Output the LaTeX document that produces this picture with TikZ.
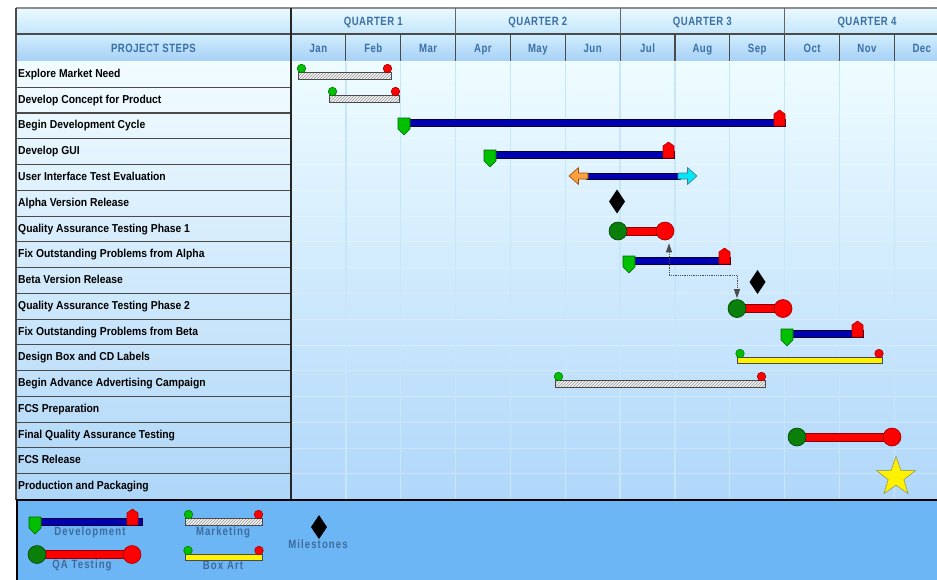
\documentclass[tikz,border=0pt]{standalone}
\usepackage{fontspec}
\setmainfont{Liberation Sans}
\newfontfamily\hdrfont{Liberation Sans}[FakeStretch=0.8,LetterSpace=4]
\newfontfamily\lgdfont{Liberation Sans}[FakeStretch=0.8,LetterSpace=9]
\newfontfamily\taskfont{Liberation Sans}[FakeStretch=0.9]
\usetikzlibrary{arrows.meta,patterns,shapes.geometric}

\definecolor{hdrtext}{HTML}{3A6EA6}
\definecolor{lgdtext}{HTML}{3E6C9A}
\definecolor{hq1}{HTML}{EAFAFF}
\definecolor{hq2}{HTML}{C4E6FC}
\definecolor{hm1}{HTML}{D0EDFD}
\definecolor{hm2}{HTML}{A6D0F6}
\definecolor{col1}{HTML}{F2FCFF}
\definecolor{col2}{HTML}{AED6F8}
\definecolor{chart1}{HTML}{EEFCFF}
\definecolor{chart2}{HTML}{B0D7FA}
\definecolor{gridc}{HTML}{C8E6FA}
\definecolor{lgdfill}{HTML}{6DB6F6}
\definecolor{rule}{HTML}{4A4A4A}
\definecolor{devblue}{HTML}{0000B0}
\definecolor{mkred}{HTML}{FF0000}
\definecolor{mkgreen}{HTML}{00C000}
\definecolor{qagreen}{HTML}{0A7F0A}
\definecolor{tiporange}{HTML}{FFA040}
\definecolor{tipcyan}{HTML}{00E8F8}

% Development bar: start x, bar end x, house right x, bar top y
\newcommand{\DevBar}[4]{%
  \draw[devbar] (#1+6,#4) rectangle (#2,#4+7);
  \draw[redmark] (#3-11,#4+7) -- (#3-11,#4-5) -- (#3-5.5,#4-9) -- (#3,#4-5) -- (#3,#4+7) -- cycle;
  \draw[greenmark] (#1,#4-1) -- (#1+12,#4-1) -- (#1+12,#4+10) -- (#1+6,#4+16) -- (#1,#4+10) -- cycle;
}
% QA bar: start x, end x, centre y, node prefix
\newcommand{\QABar}[4]{%
  \draw[qabar] (#1,#3-4) rectangle (#2,#3+4);
  \node[qastart] (#4s) at (#1,#3) {};
  \node[qaend] (#4e) at (#2,#3) {};
}
% Marketing (hatched) bar: start x, end x, bar top y
\newcommand{\MktBar}[3]{%
  \fill[white!92!gray] (#1,#3) rectangle (#2,#3+7);
  \fill[pattern=north east lines, pattern color=gray!85] (#1,#3) rectangle (#2,#3+7);
  \draw[draw=rule, line width=0.9pt] (#1,#3) rectangle (#2,#3+7);
  \draw[dotgreen] (#1+3.5,#3-3.5) circle (4.3pt);
  \draw[dotred] (#2-3.5,#3-3.5) circle (4.3pt);
}
% Box art (yellow) bar: start x, end x, bar top y
\newcommand{\ArtBar}[3]{%
  \draw[fill=yellow, draw=rule, line width=0.9pt] (#1,#3) rectangle (#2,#3+6.5);
  \draw[dotgreen] (#1+3,#3-3.5) circle (4.3pt);
  \draw[dotred] (#2-3,#3-3.5) circle (4.3pt);
}
% Milestone diamond: centre x, centre y
\newcommand{\Milestone}[2]{%
  \fill[black] (#1,#2-12) -- (#1+8,#2) -- (#1,#2+12) -- (#1-8,#2) -- cycle;
}

\begin{document}
\begin{tikzpicture}[x=1pt,y=-1pt,
  hdr/.style={font=\hdrfont\bfseries\fontsize{12}{13}\selectfont, text=hdrtext, inner sep=0pt,
    text height=8.6pt, text depth=0pt},
  lgd/.style={font=\lgdfont\bfseries\fontsize{12}{13}\selectfont, text=lgdtext, inner sep=0pt,
    text height=8.6pt, text depth=0pt},
  taskname/.style={font=\taskfont\bfseries\fontsize{11.5}{12}\selectfont, text=black, anchor=west, inner sep=0pt,
    text height=8.3pt, text depth=0pt},
  hline/.style={draw=rule, line width=1.1pt},
  gridline/.style={draw=gridc, line width=1.3pt},
  devbar/.style={fill=devblue, draw=black!80!blue, line width=0.8pt},
  redmark/.style={fill=mkred, draw=red!70!black, line width=0.6pt, line join=round},
  greenmark/.style={fill=mkgreen, draw=green!40!black, line width=0.6pt, line join=round},
  qabar/.style={fill=mkred, draw=red!55!black, line width=0.8pt},
  qastart/.style={circle, minimum size=18pt, inner sep=0pt, fill=qagreen, draw=green!25!black, line width=0.6pt},
  qaend/.style={circle, minimum size=18pt, inner sep=0pt, fill=mkred, draw=red!60!black, line width=0.6pt},
  dotgreen/.style={fill=mkgreen, draw=green!45!black, line width=0.5pt},
  dotred/.style={fill=mkred, draw=red!60!black, line width=0.5pt},
  link/.style={draw=black!70, densely dotted, line width=0.8pt,
    {Triangle[length=9pt,width=6pt]}-{Triangle[length=9pt,width=6pt]}}
]
\useasboundingbox (0,0) rectangle (937,579);
\clip (0,0) rectangle (937,579);
\fill[white] (0,0) rectangle (937,579);

% ---------- header ----------
\shade[top color=hq1, bottom color=hq2] (16,8) rectangle (960,34);
\shade[top color=hm1, bottom color=hm2] (16,34) rectangle (960,61.5);
\draw[draw=black!45, line width=1.6pt] (16,8) -- (960,8);
\draw[hline] (16,34) -- (960,34);
\draw[hline] (16,61.5) -- (960,61.5);
\foreach \q in {0,1,2,3}
  \draw[draw=black!60, line width=1.1pt] ({291+164.55*\q},8) -- ({291+164.55*\q},34);
\foreach \m in {0,...,11}
  \draw[hline] ({291+54.85*\m},34) -- ({291+54.85*\m},61.5);

\foreach \q [count=\k from 0] in {1,2,3,4}
  \node[hdr] (quarter\q) at ({291+164.55*(\k+0.5)},21) {QUARTER \q};
\node[hdr] (steps) at (153.5,48) {PROJECT STEPS};
\foreach \mon [count=\k from 0] in {Jan,Feb,Mar,Apr,May,Jun,Jul,Aug,Sep,Oct,Nov,Dec}
  \node[hdr] (month\k) at ({291+54.85*(\k+0.5)},48) {\mon};

% ---------- body background ----------
\shade[top color=col1, bottom color=col2] (16,61.5) rectangle (291,499.5);
\shade[top color=chart1, bottom color=chart2] (291,61.5) rectangle (960,499.5);
\foreach \r in {1,...,16}
  \draw[draw=white, opacity=0.3, line width=0.7pt] (291,{61.5+25.76*\r}) -- (960,{61.5+25.76*\r});
\foreach \m in {1,...,12}
  \draw[gridline] ({291+54.85*\m},61.5) -- ({291+54.85*\m},499.5);
\foreach \r in {1,...,16}
  \draw[hline] (16,{61.5+25.76*\r}) -- (291,{61.5+25.76*\r});
\draw[draw=rule, line width=1.4pt] (16,8) -- (16,500);
\draw[draw=black!85, line width=1.4pt] (291,8) -- (291,500);

% ---------- task names ----------
\foreach \name [count=\i from 0] in {Explore Market Need,Develop Concept for Product,Begin Development Cycle,Develop GUI,User Interface Test Evaluation,Alpha Version Release,Quality Assurance Testing Phase 1,Fix Outstanding Problems from Alpha,Beta Version Release,Quality Assurance Testing Phase 2,Fix Outstanding Problems from Beta,Design Box and CD Labels,Begin Advance Advertising Campaign,FCS Preparation,Final Quality Assurance Testing,FCS Release,Production and Packaging}
  \node[taskname] (task\i) at (18,{73.3+25.76*\i}) {\name};

% ---------- bars ----------
\MktBar{298}{391}{72}
\MktBar{329}{399}{95}
\DevBar{398}{785}{785}{119}
\DevBar{484}{674}{674}{151}
% user interface test evaluation: two-headed bar
\draw[devbar] (586,173) rectangle (680,179);
\draw[fill=tiporange, draw=orange!60!black, line width=0.6pt, line join=round]
  (569,176) -- (578.5,167.5) -- (578.5,173) -- (588,173) -- (588,179) -- (578.5,179) -- (578.5,184.5) -- cycle;
\draw[fill=tipcyan, draw=cyan!50!black, line width=0.6pt, line join=round]
  (678,173) -- (687.5,173) -- (687.5,167.5) -- (697,176) -- (687.5,184.5) -- (687.5,179) -- (678,179) -- cycle;
\Milestone{617}{201.5}
\QABar{618}{665}{231}{qaA}
\DevBar{623}{730}{730}{257}
\Milestone{757.5}{282}
\QABar{737}{783}{308.5}{qaB}
\DevBar{781}{863}{863}{330}
\ArtBar{737}{882}{357}
\MktBar{555}{765}{380}
\QABar{797}{892}{437}{qaC}
\node[star, star points=5, star point ratio=2.5, minimum size=41pt, inner sep=0pt,
  fill=yellow, draw=black!50!yellow, line width=0.5pt] (fcs) at (896,477) {};

% dependency link between the two QA phases
\draw[link] ([shift={(4,3)}]qaAe.south) -- ++(0,32) -| ([shift={(0,-1)}]qaBs.north);

% ---------- legend ----------
\fill[lgdfill] (16,500) rectangle (960,600);
\draw[draw=black, line width=2.4pt] (16,500) -- (960,500);
\draw[draw=black, line width=2.2pt] (17,500) -- (17,600);

\DevBar{29}{142}{138}{518}
\node[lgd] (lgdDev) at (90,531) {Development};
\QABar{37}{132}{554.5}{lgdQA}
\node[lgd] (lgdQAtext) at (82,564.5) {QA Testing};
\MktBar{185}{262}{518}
\node[lgd] (lgdMkt) at (223,531) {Marketing};
\ArtBar{185}{262}{554}
\node[lgd] (lgdArt) at (223,565) {Box Art};
\Milestone{319}{527}
\node[lgd] (lgdMile) at (318,544) {Milestones};
\end{tikzpicture}
\end{document}
